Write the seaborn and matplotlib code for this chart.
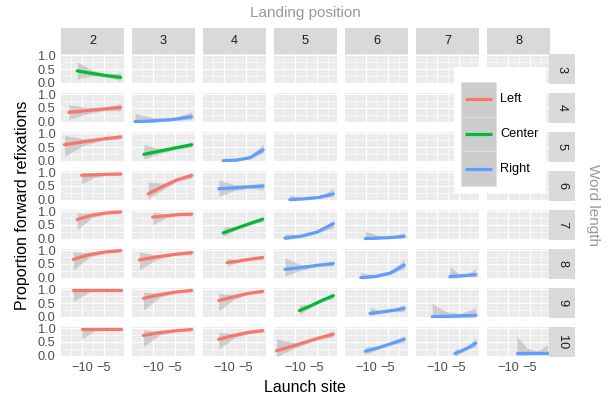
import numpy as np
import pandas as pd
import matplotlib
matplotlib.use('Agg')
import matplotlib.pyplot as plt
import seaborn as sns
from matplotlib.patches import Rectangle
from matplotlib.ticker import FixedLocator, FormatStrFormatter

sns.set_style('white')
plt.rcParams['font.family'] = ['Liberation Sans', 'DejaVu Sans']

# facet levels
word_lengths = [3, 4, 5, 6, 7, 8, 9, 10]
landing_positions = [2, 3, 4, 5, 6, 7, 8]
sides = ['Left', 'Center', 'Right']

# one entry per non-empty panel
word_len = [3, 4, 4, 5, 5, 5, 6, 6, 6, 6, 7, 7, 7, 7, 7,
            8, 8, 8, 8, 8, 8, 9, 9, 9, 9, 9, 9, 10, 10, 10, 10, 10, 10, 10]
land_pos = [2, 2, 3, 2, 3, 4, 2, 3, 4, 5, 2, 3, 4, 5, 6,
            2, 3, 4, 5, 6, 7, 2, 3, 4, 5, 6, 7, 2, 3, 4, 5, 6, 7, 8]
fix_side = ['Center', 'Left', 'Right', 'Left', 'Center', 'Right',
            'Left', 'Left', 'Right', 'Right',
            'Left', 'Left', 'Center', 'Right', 'Right',
            'Left', 'Left', 'Left', 'Right', 'Right', 'Right',
            'Left', 'Left', 'Left', 'Center', 'Right', 'Right',
            'Left', 'Left', 'Left', 'Left', 'Right', 'Right', 'Right']

# launch site values and fitted proportion (with confidence band)
launch_x = [
    [-11.1, -7.8, -4.5, -1.2],
    [-13.0, -9.1, -5.1, -1.2],
    [-14.1, -9.8, -5.5, -1.2],
    [-14.0, -9.7, -5.5, -1.2],
    [-12.1, -8.5, -4.8, -1.2],
    [-10.2, -7.1, -4.1, -1.1],
    [-10.1, -7.1, -4.2, -1.2],
    [-11.1, -7.8, -4.5, -1.2],
    [-11.2, -7.8, -4.4, -1.1],
    [-11.2, -7.9, -4.6, -1.3],
    [-11.1, -7.8, -4.5, -1.2],
    [-10.1, -7.1, -4.2, -1.2],
    [-10.2, -7.2, -4.2, -1.2],
    [-12.3, -8.6, -5.0, -1.3],
    [-10.2, -7.2, -4.3, -1.3],
    [-12.0, -8.4, -4.8, -1.2],
    [-13.1, -9.2, -5.2, -1.2],
    [-9.3, -6.6, -3.9, -1.2],
    [-12.3, -8.6, -5.0, -1.3],
    [-11.2, -7.9, -4.6, -1.3],
    [-7.1, -5.1, -3.2, -1.2],
    [-12.0, -8.4, -4.8, -1.2],
    [-12.2, -8.6, -4.9, -1.2],
    [-11.2, -7.8, -4.5, -1.2],
    [-9.0, -6.4, -3.9, -1.3],
    [-9.1, -6.5, -3.9, -1.3],
    [-11.1, -7.8, -4.5, -1.2],
    [-10.1, -7.1, -4.2, -1.2],
    [-12.2, -8.6, -4.9, -1.2],
    [-11.2, -7.8, -4.5, -1.2],
    [-14.2, -9.9, -5.6, -1.3],
    [-10.2, -7.2, -4.3, -1.3],
    [-5.9, -4.4, -2.8, -1.2],
    [-8.0, -5.7, -3.3, -1.0],
]
fit_y = [
    [0.43, 0.34, 0.26, 0.19],
    [0.34, 0.40, 0.46, 0.52],
    [0.00, 0.03, 0.08, 0.18],
    [0.585, 0.69, 0.79, 0.87],
    [0.23, 0.35, 0.47, 0.585],
    [0.00, 0.02, 0.11, 0.40],
    [0.89, 0.91, 0.93, 0.94],
    [0.21, 0.48, 0.73, 0.89],
    [0.40, 0.43, 0.47, 0.50],
    [0.00, 0.03, 0.08, 0.21],
    [0.70, 0.86, 0.94, 0.98],
    [0.79, 0.84, 0.88, 0.90],
    [0.21, 0.38, 0.55, 0.71],
    [0.02, 0.09, 0.24, 0.55],
    [0.00, 0.02, 0.04, 0.08],
    [0.67, 0.84, 0.94, 0.99],
    [0.65, 0.76, 0.85, 0.92],
    [0.55, 0.61, 0.68, 0.74],
    [0.30, 0.37, 0.45, 0.52],
    [0.00, 0.04, 0.16, 0.46],
    [0.04, 0.06, 0.08, 0.11],
    [0.98, 0.98, 0.98, 0.98],
    [0.67, 0.80, 0.90, 0.96],
    [0.59, 0.73, 0.85, 0.93],
    [0.22, 0.40, 0.59, 0.77],
    [0.12, 0.17, 0.23, 0.30],
    [0.00, 0.01, 0.03, 0.05],
    [0.98, 0.98, 0.98, 0.98],
    [0.74, 0.84, 0.91, 0.96],
    [0.60, 0.74, 0.85, 0.92],
    [0.18, 0.38, 0.60, 0.79],
    [0.16, 0.29, 0.44, 0.61],
    [0.08, 0.18, 0.30, 0.46],
    [0.09, 0.09, 0.09, 0.09],
]
ci_lo = [
    [0.13, 0.24, 0.20, 0.08],
    [0.08, 0.28, 0.40, 0.40],
    [-0.05, -0.02, 0.04, 0.08],
    [0.16, 0.56, 0.74, 0.79],
    [0.06, 0.26, 0.42, 0.49],
    [-0.04, -0.01, 0.07, 0.28],
    [0.57, 0.82, 0.90, 0.88],
    [0.04, 0.36, 0.67, 0.79],
    [0.12, 0.32, 0.42, 0.37],
    [-0.05, 0.00, 0.05, 0.11],
    [0.33, 0.76, 0.91, 0.94],
    [0.52, 0.76, 0.85, 0.84],
    [0.08, 0.33, 0.51, 0.62],
    [-0.05, 0.05, 0.20, 0.40],
    [-0.05, 0.00, 0.02, 0.04],
    [0.28, 0.74, 0.91, 0.95],
    [0.28, 0.66, 0.82, 0.84],
    [0.43, 0.57, 0.64, 0.67],
    [0.06, 0.27, 0.41, 0.43],
    [-0.05, 0.01, 0.12, 0.33],
    [-0.03, 0.00, 0.05, 0.04],
    [0.55, 0.90, 0.96, 0.94],
    [0.24, 0.70, 0.87, 0.92],
    [0.21, 0.63, 0.82, 0.87],
    [0.08, 0.35, 0.55, 0.67],
    [0.04, 0.13, 0.19, 0.18],
    [-0.04, -0.04, -0.04, -0.04],
    [0.61, 0.91, 0.96, 0.94],
    [0.33, 0.75, 0.88, 0.92],
    [0.24, 0.64, 0.81, 0.85],
    [-0.04, 0.29, 0.55, 0.70],
    [0.04, 0.24, 0.40, 0.49],
    [-0.03, 0.12, 0.25, 0.33],
    [0.00, 0.02, 0.05, 0.04],
]
ci_hi = [
    [0.76, 0.47, 0.31, 0.36],
    [0.62, 0.52, 0.52, 0.66],
    [0.30, 0.14, 0.12, 0.37],
    [0.92, 0.80, 0.83, 0.94],
    [0.59, 0.44, 0.52, 0.67],
    [0.04, 0.05, 0.15, 0.61],
    [1.01, 0.96, 0.96, 1.00],
    [0.65, 0.60, 0.79, 0.95],
    [0.73, 0.55, 0.52, 0.61],
    [0.16, 0.06, 0.11, 0.40],
    [0.94, 0.93, 0.97, 1.01],
    [0.98, 0.90, 0.91, 0.96],
    [0.43, 0.43, 0.59, 0.82],
    [0.18, 0.13, 0.28, 0.67],
    [0.28, 0.11, 0.07, 0.24],
    [0.94, 0.91, 0.97, 1.01],
    [0.94, 0.83, 0.88, 0.98],
    [0.70, 0.65, 0.71, 0.82],
    [0.72, 0.47, 0.49, 0.60],
    [0.18, 0.08, 0.20, 0.67],
    [0.40, 0.16, 0.11, 0.33],
    [1.01, 0.995, 0.995, 1.01],
    [0.89, 0.87, 0.93, 1.01],
    [0.85, 0.81, 0.88, 1.00],
    [0.43, 0.45, 0.63, 0.87],
    [0.33, 0.21, 0.26, 0.45],
    [0.49, 0.17, 0.12, 0.33],
    [1.01, 0.995, 0.995, 1.01],
    [0.94, 0.90, 0.94, 1.01],
    [0.85, 0.81, 0.88, 0.99],
    [0.61, 0.47, 0.65, 0.89],
    [0.33, 0.34, 0.48, 0.70],
    [0.24, 0.23, 0.35, 0.67],
    [0.72, 0.28, 0.17, 0.39],
]

palette = {'Left': '#F8766D', 'Center': '#00BA38', 'Right': '#619CFF'}

W, H = 608, 398
fig = plt.figure(figsize=(W / 100, H / 100), dpi=100)
fig.patch.set_facecolor('white')


def px_axes(x, y, w, h):
    # axes placed by pixel box (top-left origin)
    return fig.add_axes([x / W, 1 - (y + h) / H, w / W, h / H])


def bare(ax, face):
    ax.set_facecolor(face)
    ax.set_xticks([])
    ax.set_yticks([])
    for s in ax.spines.values():
        s.set_visible(False)


panel_index = {(wl, lp): i for i, (wl, lp) in enumerate(zip(word_len, land_pos))}

for r, wl in enumerate(word_lengths):
    for c, lp in enumerate(landing_positions):
        ax = px_axes(61 + 71 * c, 54 + 39 * r, 63, 30)
        ax.set_facecolor('#EBEBEB')
        for s in ax.spines.values():
            s.set_visible(False)
        ax.set_xlim(-14.8, -0.45)
        ax.set_ylim(-0.05, 1.05)
        ax.xaxis.set_major_locator(FixedLocator([-10, -5]))
        ax.xaxis.set_minor_locator(FixedLocator([-12.5, -7.5, -2.5]))
        ax.yaxis.set_major_locator(FixedLocator([0, 0.5, 1.0]))
        ax.yaxis.set_minor_locator(FixedLocator([0.25, 0.75]))
        ax.yaxis.set_major_formatter(FormatStrFormatter('%.1f'))
        ax.grid(True, which='major', color='white', lw=0.85)
        ax.grid(True, which='minor', color='white', lw=0.45)
        ax.set_axisbelow(True)
        ax.tick_params(which='minor', length=0)
        ax.tick_params(axis='both', which='major', length=2.3, width=0.8,
                       color='#333333', labelsize=9.2, labelcolor='#4D4D4D', pad=1.5)
        if c > 0:
            ax.tick_params(axis='y', which='major', length=0, labelleft=False)
        if r < len(word_lengths) - 1:
            ax.tick_params(axis='x', which='major', length=0, labelbottom=False)

        i = panel_index.get((wl, lp))
        if i is not None:
            col = palette[fix_side[i]]
            ax.fill_between(launch_x[i], ci_lo[i], ci_hi[i], color='#999999',
                            alpha=0.4, lw=0)
            sns.lineplot(x=launch_x[i], y=fit_y[i], ax=ax, color=col, lw=2.3,
                         estimator=None, sort=False, legend=False)
        ax.set_xlabel('')
        ax.set_ylabel('')

        # right strip
        if c == len(landing_positions) - 1:
            sax = px_axes(549, 54 + 39 * r, 26, 30)
            bare(sax, '#D9D9D9')
            sax.text(0.5, 0.5, str(wl), ha='center', va='center', rotation=-90,
                     fontsize=9.2, color='#1A1A1A', transform=sax.transAxes)

# top strips
for c, lp in enumerate(landing_positions):
    sax = px_axes(61 + 71 * c, 28, 63, 26)
    bare(sax, '#D9D9D9')
    sax.text(0.5, 0.5, str(lp), ha='center', va='center', fontsize=9.2,
             color='#1A1A1A', transform=sax.transAxes)

# titles
fig.text(305 / W, 1 - 13 / H, 'Landing position', ha='center', va='center',
         fontsize=11, color='#999999')
fig.text(593 / W, 1 - 205 / H, 'Word length', ha='center', va='center',
         rotation=-90, fontsize=11, color='#999999')
fig.text(305 / W, 1 - 388 / H, 'Launch site', ha='center', va='center',
         fontsize=11.5, color='black')
fig.text(23 / W, 1 - 205 / H, 'Proportion forward refixations', ha='center',
         va='center', rotation=90, fontsize=11.5, color='black')

# legend box drawn over the empty panels (pixel units inside the box)
lax = px_axes(454, 67, 92, 126)
bare(lax, 'white')
lax.set_xlim(0, 92)
lax.set_ylim(126, 0)
key_h = 34.7
for k, s in enumerate(sides):
    top = 15 + key_h * k
    lax.add_patch(Rectangle((7, top), 35, key_h, facecolor='#CDCDCD',
                            edgecolor='#E0E0E0', lw=0.6))
    lax.plot([11, 38], [top + key_h / 2] * 2, color=palette[s], lw=2.3,
             solid_capstyle='butt')
    lax.text(46, top + key_h / 2, s, ha='left', va='center', fontsize=9.2,
             color='black')

fig.savefig('out.png', dpi=100)
